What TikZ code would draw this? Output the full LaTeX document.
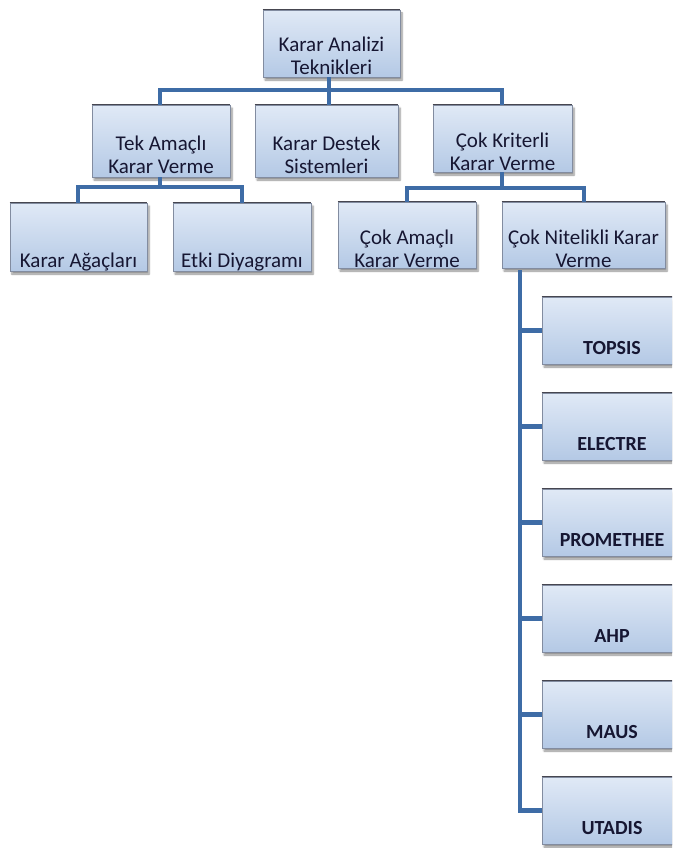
\documentclass[tikz,border=0pt]{standalone}
\usepackage{fontspec}
\setmainfont{Carlito}
\usetikzlibrary{shadows.blur}

\definecolor{linkblue}{RGB}{62,108,166}
\definecolor{boxtop}{RGB}{224,233,246}
\definecolor{boxbot}{RGB}{180,201,229}
\definecolor{boxedge}{RGB}{130,140,160}
\definecolor{boxrim}{RGB}{70,70,80}
\definecolor{inkdark}{RGB}{22,22,50}

\tikzset{
  box/.style={rectangle, inner sep=0pt, top color=boxtop, bottom color=boxbot,
    draw=boxedge, line width=0.6pt,
    blur shadow={shadow xshift=2pt, shadow yshift=-3pt, shadow blur steps=6, shadow opacity=45}},
  rim/.style={draw=boxrim, line width=1.2pt},
  boxtext/.style={anchor=south, align=center, text depth=0pt, inner sep=0pt,
    font=\fontsize{21}{23}\selectfont, text=inkdark},
  methodtext/.style={boxtext, font=\fontsize{20}{23}\selectfont\bfseries},
  link/.style={draw=linkblue, line width=4.5pt}
}

% box: name, left, top, right, bottom (picture units are points, y downwards)
\newcommand\tbox[5]{%
  \node[box, minimum width={(#4-#2)*1pt}, minimum height={(#5-#3)*1pt}]
    (#1) at ({(#2+#4)/2},{(#3+#5)/2}) {};
  \draw[rim] (#1.north west) -- (#1.north east);
}

\begin{document}
\begin{tikzpicture}[x=1pt, y=-1pt]
  \useasboundingbox (0,0) rectangle (672,848);
  \begin{scope}
  \clip (0,0) rectangle (672,848);

  % junction points of the tree
  \coordinate (j0) at (329,90);
  \coordinate (jL) at (160,187);
  \coordinate (jR) at (502,188);
  \coordinate (spine) at (520,270);

  \tbox{root}{263}{10}{400}{77}
  \tbox{tek}{92}{105}{230}{177}
  \tbox{kds}{255}{105}{398}{177}
  \tbox{ckk}{433}{105}{572}{172}
  \tbox{ka}{10}{203}{147}{271}
  \tbox{ed}{173}{203}{311}{271}
  \tbox{ca}{338}{202}{476}{268}
  \tbox{cn}{502}{202}{665}{268}
  \tbox{topsis}{542}{297}{684}{364}
  \tbox{electre}{542}{393}{684}{460}
  \tbox{promethee}{542}{489}{684}{556}
  \tbox{ahp}{542}{585}{684}{652}
  \tbox{maus}{542}{681}{684}{748}
  \tbox{utadis}{542}{777}{684}{844}

  % level 1
  \draw[link] (root.south -| j0) -- (j0);
  \draw[link] (tek.north -| jL) |- (j0) -| (ckk.north -| jR);
  \draw[link] (j0) -- (kds.north -| j0);
  % level 2, left
  \draw[link] (tek.south -| jL) -- (jL);
  \draw[link] (ka.north -| 78,0) |- (jL) -| (ed.north -| 242,0);
  % level 2, right
  \draw[link] (ckk.south -| jR) -- (jR);
  \draw[link] (ca.north -| 407,0) |- (jR) -| (cn.north -| 584,0);
  % methods
  \draw[link] (spine) |- (utadis.west);
  \foreach \m in {topsis,electre,promethee,ahp,maus}
    \draw[link] (spine |- \m.west) -- (\m.west);

  % labels
  \node[boxtext] (troot) at ([yshift=3pt]root.south) {Karar Analizi\\Teknikleri};
  \node[boxtext] (ttek) at ([yshift=4pt]tek.south) {Tek Amaçlı\\Karar Verme};
  \node[boxtext] (tkds) at ([yshift=4pt]kds.south) {Karar Destek\\Sistemleri};
  \node[boxtext] (tckk) at ([yshift=2pt]ckk.south) {Çok Kriterli\\Karar Verme};
  \node[boxtext] (tka) at ([yshift=4pt]ka.south) {Karar Ağaçları};
  \node[boxtext] (ted) at ([yshift=4pt]ed.south) {Etki Diyagramı};
  \node[boxtext] (tca) at ([yshift=1pt]ca.south) {Çok Amaçlı\\Karar Verme};
  \node[boxtext] (tcn) at ([yshift=1pt]cn.south) {Çok Nitelikli Karar\\Verme};
  \foreach \m/\t in {topsis/TOPSIS,electre/ELECTRE,promethee/PROMETHEE,ahp/AHP,maus/MAUS,utadis/UTADIS}
    \node[methodtext] (t\m) at ([xshift=-1pt,yshift=10pt]\m.south) {\t};
  \end{scope}
\end{tikzpicture}
\end{document}
